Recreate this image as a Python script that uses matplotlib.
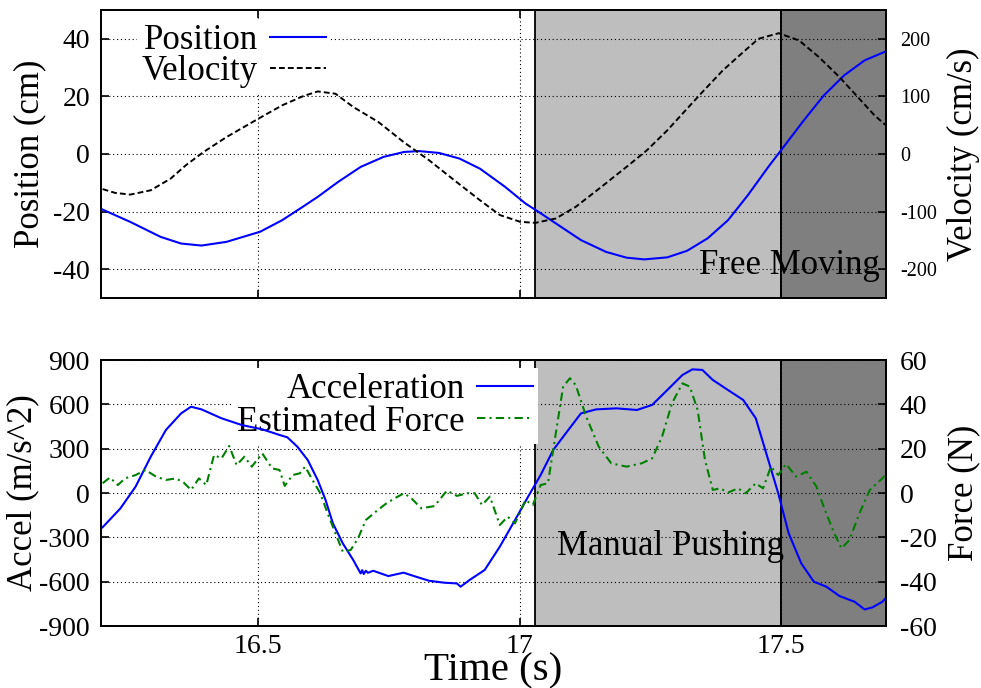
import matplotlib
matplotlib.use("Agg")
import matplotlib.pyplot as plt

plt.rcParams['font.family'] = ['Liberation Serif', 'DejaVu Serif']
plt.rcParams['axes.unicode_minus'] = False

# ---- time window and experiment phases ----
t_range = [16.2, 17.7]
x_ticks = [16.5, 17.0, 17.5]
x_tick_labels = ["16.5", "17", "17.5"]
phase_edges = [17.03, 17.5, 17.7]          # manual pushing, then free moving
phase_colors = ["#bebebe", "#7f7f7f"]

# ---- position (cm) ----
pos_t = [16.203, 16.256, 16.314, 16.353, 16.392, 16.440, 16.504, 16.546, 16.585,
         16.614, 16.653, 16.696, 16.740, 16.779, 16.808, 16.846, 16.885, 16.924,
         16.972, 17.011, 17.036, 17.069, 17.117, 17.165, 17.204, 17.238, 17.282,
         17.320, 17.359, 17.398, 17.436, 17.475, 17.504, 17.543, 17.581, 17.620,
         17.659, 17.707]
pos_cm = [-19.3, -23.6, -28.8, -31.1, -31.8, -30.5, -27.0, -23.0, -18.4,
          -14.9, -9.7, -4.5, -1.0, 0.7, 1.0, 0.35, -1.6, -5.1,
          -11.4, -17.2, -20.1, -24.1, -29.9, -34.0, -36.0, -36.6, -35.9,
          -33.6, -29.3, -23.0, -14.3, -4.5, 2.4, 11.7, 20.3, 27.3,
          32.5, 36.2]

# ---- velocity (cm/s) ----
vel_t = [16.203, 16.227, 16.256, 16.295, 16.333, 16.362, 16.396, 16.440, 16.504,
         16.546, 16.585, 16.614, 16.648, 16.682, 16.730, 16.778, 16.827, 16.875,
         16.924, 16.962, 17.001, 17.030, 17.069, 17.107, 17.156, 17.204, 17.243,
         17.282, 17.311, 17.349, 17.388, 17.427, 17.456, 17.495, 17.534, 17.572,
         17.611, 17.649, 17.678, 17.707]
vel_cms = [-61, -67.6, -70.5, -63, -42.7, -19.6, 3.5, 29.5, 63,
           84.4, 100, 108.6, 104.6, 81.5, 55.5, 20.8, -11, -45.6,
           -80.3, -106, -117.8, -119.6, -112, -91.8, -57.2, -22.5, 6.4,
           41, 69.9, 107.5, 145, 176.8, 199.9, 209.7, 197, 168,
           133.5, 95.9, 67, 44]

# ---- acceleration (m/s^2) ----
acc_t = [16.203, 16.237, 16.266, 16.295, 16.324, 16.353, 16.372, 16.392, 16.430,
         16.469, 16.508, 16.541, 16.556, 16.575, 16.595, 16.614, 16.629, 16.643,
         16.662, 16.682, 16.696, 16.699, 16.702, 16.706, 16.710, 16.720, 16.749,
         16.778, 16.798, 16.827, 16.856, 16.880, 16.887, 16.904, 16.933, 16.962,
         16.991, 17.016, 17.040, 17.064, 17.088, 17.117, 17.146, 17.185, 17.224,
         17.253, 17.282, 17.311, 17.330, 17.349, 17.369, 17.398, 17.427, 17.451,
         17.475, 17.494, 17.514, 17.538, 17.562, 17.586, 17.611, 17.640, 17.659,
         17.674, 17.693, 17.707]
acc = [-232, -104, 43, 246, 427, 539, 584, 566, 506,
       460, 431, 393, 377, 314, 223, 88, -47, -205,
       -341, -454, -544, -522, -548, -526, -540, -526, -562,
       -539, -562, -594, -607, -612, -634, -589, -521, -363,
       -183, -25, 122, 291, 404, 539, 566, 573, 562,
       596, 697, 799, 837, 833, 765, 697, 630, 506,
       223, -2, -273, -476, -600, -634, -697, -736, -788,
       -774, -736, -679]

# ---- estimated force (N) ----
force_t = [16.203, 16.217, 16.232, 16.246, 16.266, 16.285, 16.305, 16.324, 16.343,
           16.358, 16.372, 16.387, 16.401, 16.416, 16.430, 16.445, 16.459, 16.474,
           16.488, 16.508, 16.527, 16.541, 16.551, 16.566, 16.580, 16.590, 16.604,
           16.619, 16.633, 16.648, 16.662, 16.677, 16.691, 16.706, 16.725, 16.745,
           16.764, 16.779, 16.793, 16.812, 16.837, 16.861, 16.880, 16.900, 16.914,
           16.928, 16.943, 16.962, 16.977, 16.991, 17.011, 17.025, 17.040, 17.054,
           17.069, 17.083, 17.096, 17.107, 17.127, 17.151, 17.175, 17.204, 17.233,
           17.253, 17.272, 17.291, 17.311, 17.325, 17.340, 17.354, 17.369, 17.383,
           17.398, 17.417, 17.432, 17.451, 17.465, 17.480, 17.494, 17.509, 17.528,
           17.548, 17.567, 17.582, 17.601, 17.615, 17.630, 17.649, 17.669, 17.693,
           17.707]
force = [4.4, 7.0, 3.6, 6.6, 8.1, 10.4, 7.4, 5.9, 6.6,
         4.7, 1.4, 6.6, 3.6, 17.2, 15.6, 21.2, 12.6, 16.4,
         11.9, 17.9, 11.1, 10.4, 3.2, 8.1, 8.9, 11.9, 5.9,
         -0.1, -9.2, -18.2, -26.5, -25.7, -20.5, -12.2, -8.4, -4.7,
         -2.0, -0.1, -2.4, -6.9, -5.9, 1.1, -1.3, -0.1, -0.1,
         -5.4, -1.6, -14.4, -10.7, -13.7, -3.2, -5.4, 3.6, 4.4,
         27.0, 48.0, 51.8, 48.7, 34.5, 20.9, 13.4, 11.9, 13.4,
         15.6, 25.4, 40.5, 49.5, 48.0, 37.5, 14.9, 1.4, 2.1,
         0.2, 2.1, -0.1, 4.4, 2.1, 11.9, 8.1, 13.1, 7.4,
         9.6, 2.9, -6.9, -18.2, -25.0, -21.2, -9.2, 1.4, 6.6,
         10.4]

BLUE = "#0000ff"
GREEN = "#008000"
TICK_FS = 20
LABEL_FS = 25

fig = plt.figure(figsize=(9.81, 6.88), dpi=100)
ax_top = fig.add_axes([0.1030, 0.5669, 0.8002, 0.4186])
ax_bot = fig.add_axes([0.1030, 0.0901, 0.8002, 0.3866])
ax_top_r = ax_top.twinx()
ax_bot_r = ax_bot.twinx()


def shade_phases(ax):
    for (x0, x1), fc in zip(zip(phase_edges[:-1], phase_edges[1:]), phase_colors):
        ax.axvspan(x0, x1, facecolor=fc, edgecolor="black", linewidth=1.3, zorder=1)


def style_axes(ax, axr, show_xlabels):
    ax.set_xlim(*t_range)
    ax.set_xticks(x_ticks)
    ax.set_xticklabels(x_tick_labels if show_xlabels else [])
    ax.set_axisbelow('line')
    ax.grid(True, linestyle=(0, (1, 2.5)), color="black", linewidth=0.8)
    ax.tick_params(axis='x', direction='in', top=True, bottom=True, length=6,
                   width=1.2, labelsize=TICK_FS, pad=6)
    ax.tick_params(axis='y', direction='in', left=True, right=False, length=6,
                   width=1.2, labelsize=TICK_FS, pad=8)
    axr.tick_params(axis='y', direction='in', right=True, length=6, width=1.2, pad=10)
    for a in (ax, axr):
        for sp in a.spines.values():
            sp.set_linewidth(1.3)


def place_ylabel(ax, x):
    ax.yaxis.set_label_coords(x, 0.5)
    ax.yaxis.label.set_verticalalignment("center")


def key(ax, handles, anchor_px, spacing):
    leg = ax.legend(handles=handles, loc="upper right",
                    bbox_to_anchor=(anchor_px[0] / 981, 1 - anchor_px[1] / 688),
                    bbox_transform=fig.transFigure, markerfirst=False,
                    fontsize=LABEL_FS, frameon=True, fancybox=False,
                    borderpad=0.15, borderaxespad=0, labelspacing=spacing,
                    handlelength=1.6, handletextpad=0.35)
    frame = leg.get_frame()
    frame.set_facecolor("white")
    frame.set_edgecolor("none")
    frame.set_alpha(1)
    # key box sits above the grid but below the curves
    leg.set_zorder(1.8)
    return leg


# ---------------- top panel: position / velocity ----------------
shade_phases(ax_top)
line_pos, = ax_top.plot(pos_t, pos_cm, color=BLUE, linewidth=1.5, zorder=3,
                        label="Position")
line_vel, = ax_top_r.plot(vel_t, vel_cms, color="black", linewidth=1.4,
                          linestyle=(0, (3, 1.6)), label="Velocity")
ax_top.set_ylim(-50, 50)
ax_top.set_yticks([-40, -20, 0, 20, 40])
ax_top_r.set_ylim(-250, 250)
ax_top_r.set_yticks([-200, -100, 0, 100, 200])
style_axes(ax_top, ax_top_r, show_xlabels=False)
ax_top_r.tick_params(axis='y', labelsize=14.5)
ax_top.set_ylabel("Position (cm)", fontsize=LABEL_FS)
place_ylabel(ax_top, -0.091)
ax_top_r.set_ylabel("Velocity (cm/s)", fontsize=LABEL_FS)
place_ylabel(ax_top_r, 1.099)
ax_top.text(17.343, -38.6, "Free Moving", fontsize=LABEL_FS, ha="left",
            va="center", zorder=4)
key(ax_top, [line_pos, line_vel], (331, 19), -0.05)

# ---------------- bottom panel: acceleration / force ----------------
shade_phases(ax_bot)
line_acc, = ax_bot.plot(acc_t, acc, color=BLUE, linewidth=1.5, zorder=3,
                        label="Acceleration")
line_force, = ax_bot_r.plot(force_t, force, color=GREEN, linewidth=1.5,
                            linestyle=(0, (4, 2, 1, 2)), label="Estimated Force")
ax_bot.set_ylim(-900, 900)
ax_bot.set_yticks([-900, -600, -300, 0, 300, 600, 900])
ax_bot_r.set_ylim(-60, 60)
ax_bot_r.set_yticks([-60, -40, -20, 0, 20, 40, 60])
style_axes(ax_bot, ax_bot_r, show_xlabels=True)
ax_bot_r.tick_params(axis='y', labelsize=TICK_FS)
ax_bot.set_ylabel("Accel (m/s^2)", fontsize=LABEL_FS)
place_ylabel(ax_bot, -0.100)
ax_bot_r.set_ylabel("Force (N)", fontsize=LABEL_FS)
place_ylabel(ax_bot_r, 1.099)
ax_bot.set_xlabel("Time (s)", fontsize=29.5)
ax_bot.xaxis.set_label_coords(0.5, -0.203)
ax_bot.xaxis.label.set_verticalalignment("baseline")
ax_bot.text(17.071, -360, "Manual Pushing", fontsize=LABEL_FS, ha="left",
            va="center", zorder=4)
key(ax_bot, [line_acc, line_force], (538, 368), -0.02)

fig.savefig("out.png", dpi=100)
